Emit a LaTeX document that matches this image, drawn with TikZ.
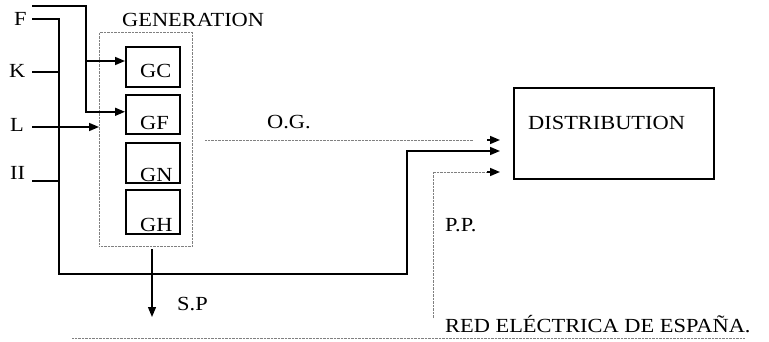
\documentclass[tikz,border=0pt]{standalone}
\usepackage{fontspec}
\setmainfont[FakeStretch=1.12]{Liberation Serif}
\usetikzlibrary{arrows.meta}
\begin{document}
\begin{tikzpicture}[x=1pt,y=-1pt,
  wire/.style={line width=1.6pt,black},
  arr/.style={-{Triangle[length=10pt,width=8pt]}},
  dots/.style={line width=0.7pt,gray,dash pattern=on 0.7pt off 0.7pt},
  genbox/.style={draw,line width=1.6pt,minimum width=54pt,minimum height=40pt,inner sep=0pt,anchor=north west},
  lbl/.style={inner sep=0pt,anchor=base west,font=\fontsize{20}{24}\selectfont}]
\useasboundingbox (0,0) rectangle (769,342);
% labels
\node[lbl] (lF) at (14,26) {F};
\node[lbl] (lK) at (9,78) {K};
\node[lbl] (lL) at (10,132) {L};
\node[lbl] (lII) at (10,180) {II};
\node[lbl] (lGen) at (122,27) {GENERATION};
% generation box
\node[draw,dots,minimum width=93pt,minimum height=214pt,inner sep=0pt,anchor=north west] (gen) at (99,32) {};
\node[genbox] (gc) at (125,46) {};
\node[genbox,minimum height=39pt] (gf) at (125,94) {};
\node[genbox] (gn) at (125,142) {};
\node[genbox,minimum height=44pt] (gh) at (125,189) {};
\node[lbl] (tGC) at (140,78) {GC};
\node[lbl] (tGF) at (140,130) {GF};
\node[lbl] (tGN) at (140,182) {GN};
\node[lbl] (tGH) at (140,232) {GH};
% distribution
\node[draw,line width=1.6pt,minimum width=200pt,minimum height=91pt,inner sep=0pt,anchor=north west] (dist) at (513,87) {};
\node[lbl] (tDist) at (528,130) {DISTRIBUTION};
\node[lbl] (tOG) at (267,129) {O.G.};
\node[lbl] (tPP) at (445,232) {P.P.};
\node[lbl] (tSP) at (177,310) {S.P};
\node[lbl] (tRed) at (445,332) {RED ELÉCTRICA DE ESPAÑA.};
% coordinates
\coordinate (fTop) at (32,6);
\coordinate (fBend) at (86,6);
\coordinate (jC) at (86,61);
\coordinate (fLow) at (32,19);
\coordinate (bus) at (59,19);
\coordinate (busEnd) at (59,274);
\coordinate (rise) at (407,274);
\coordinate (kS) at (32,72);
\coordinate (kE) at (59,72);
\coordinate (lS) at (32,127);
\coordinate (lE) at (99,127);
\coordinate (iS) at (32,181);
\coordinate (iE) at (59,181);
\coordinate (inOG) at (500,140);
\coordinate (inS) at (500,151);
\coordinate (inPP) at (500,172);
\coordinate (ogS) at (205,140);
\coordinate (ogE) at (473,140);
\coordinate (ogA) at (487,140);
\coordinate (ppS) at (433,318);
\coordinate (ppA) at (487,172);
\coordinate (spS) at (152,249);
\coordinate (spE) at (152,317);
\coordinate (redS) at (72,338);
\coordinate (redE) at (745,338);
% connectors
\draw[wire,arr] (fTop) -- (fBend) |- ([yshift=2.5pt]gf.west);
\draw[wire,arr] (jC) -- (gc.west |- jC);
\draw[wire,arr] (fLow) -- (bus) -- (busEnd) -- (rise) |- (inS);
\draw[wire] (kS) -- (kE);
\draw[wire,arr] (lS) -- (lE);
\draw[wire] (iS) -- (iE);
\draw[wire,line width=1.2pt,arr] (spS) -- (spE);
\draw[dots] (ogS) -- (ogE);
\draw[wire,arr] (ogA) -- (inOG);
\draw[dots] (ppS) |- (ppA);
\draw[wire,arr] (ppA) -- (inPP);
\draw[dots] (redS) -- (redE);
\end{tikzpicture}
\end{document}
